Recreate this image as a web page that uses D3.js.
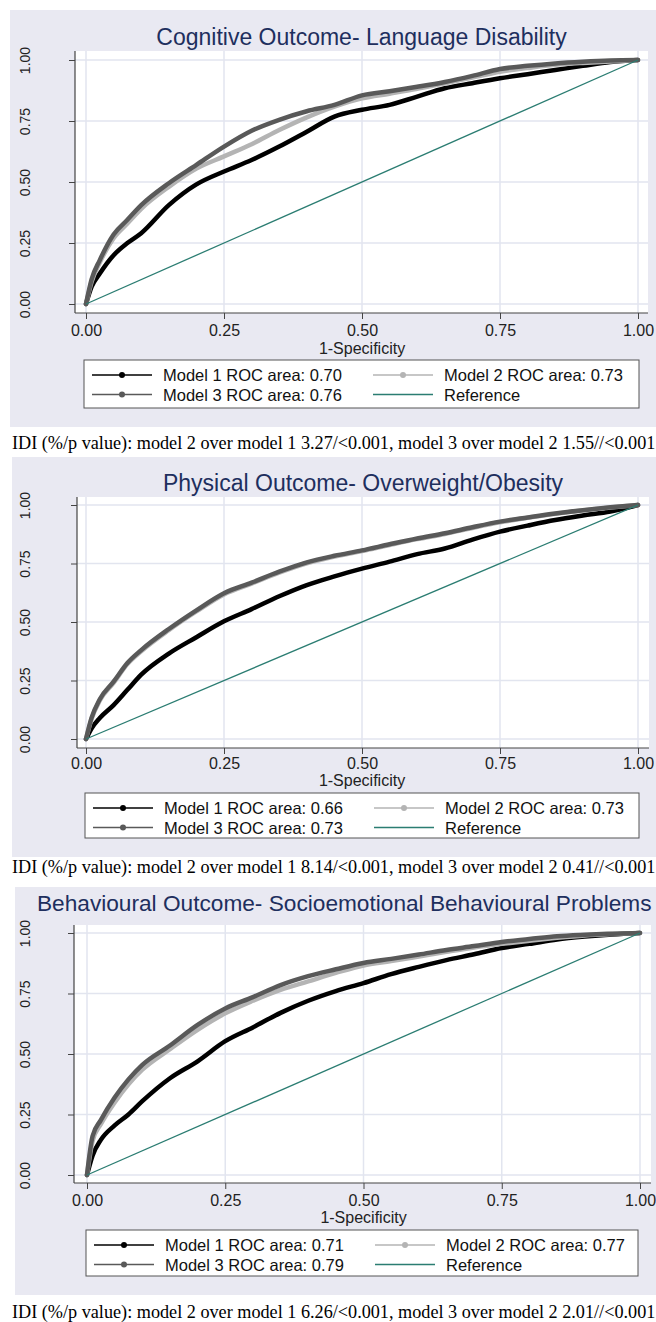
<!DOCTYPE html>
<html>
<head>
<meta charset="utf-8">
<script src="https://cdn.jsdelivr.net/npm/d3@7"></script>
<style>
  body { margin: 0; background: #fff; }
  svg { display: block; }
</style>
</head>
<body>
<div id="roc-panels"></div>
<script>
// 1-Specificity grid the curves were read at
const fpr = [0, 0.01, 0.025, 0.05, 0.075, 0.1, 0.15, 0.2, 0.25, 0.3, 0.35, 0.4, 0.45,
             0.5, 0.55, 0.6, 0.65, 0.7, 0.75, 0.8, 0.85, 0.9, 0.95, 1];

// Cognitive outcome - language disability (sensitivity)
const langModel1 = [0, 0.07, 0.125, 0.2, 0.25, 0.29, 0.405, 0.49, 0.543, 0.59, 0.645, 0.706, 0.768,
                    0.796, 0.816, 0.85, 0.884, 0.905, 0.925, 0.942, 0.959, 0.976, 0.992, 1];
const langModel2 = [0, 0.09, 0.17, 0.27, 0.33, 0.39, 0.48, 0.555, 0.605, 0.655, 0.713, 0.765, 0.809,
                    0.843, 0.862, 0.882, 0.905, 0.928, 0.952, 0.967, 0.98, 0.988, 0.994, 1];
const langModel3 = [0, 0.1, 0.18, 0.285, 0.345, 0.405, 0.495, 0.57, 0.645, 0.71, 0.755, 0.79, 0.816,
                    0.855, 0.872, 0.89, 0.91, 0.935, 0.963, 0.976, 0.986, 0.993, 0.998, 1];

// Physical outcome - overweight/obesity
const obeseModel1 = [0, 0.045, 0.09, 0.145, 0.21, 0.275, 0.365, 0.435, 0.503, 0.555, 0.61, 0.658, 0.695,
                     0.728, 0.758, 0.79, 0.814, 0.852, 0.886, 0.912, 0.936, 0.955, 0.972, 1];
const obeseModel2 = [0, 0.085, 0.165, 0.24, 0.32, 0.375, 0.465, 0.545, 0.618, 0.664, 0.711, 0.751, 0.78,
                     0.803, 0.829, 0.854, 0.876, 0.902, 0.926, 0.945, 0.962, 0.977, 0.989, 1];
const obeseModel3 = [0, 0.09, 0.17, 0.245, 0.325, 0.38, 0.47, 0.55, 0.623, 0.668, 0.715, 0.755, 0.783,
                     0.806, 0.832, 0.857, 0.879, 0.905, 0.929, 0.947, 0.964, 0.978, 0.99, 1];

// Behavioural outcome - socioemotional behavioural problems
const behavModel1 = [0, 0.08, 0.145, 0.205, 0.25, 0.305, 0.4, 0.47, 0.553, 0.61, 0.67, 0.72, 0.76,
                     0.793, 0.83, 0.86, 0.888, 0.912, 0.938, 0.955, 0.973, 0.985, 0.994, 1];
const behavModel2 = [0, 0.14, 0.21, 0.3, 0.375, 0.435, 0.52, 0.6, 0.668, 0.72, 0.765, 0.8, 0.835,
                     0.866, 0.884, 0.903, 0.922, 0.94, 0.955, 0.968, 0.98, 0.99, 0.996, 1];
const behavModel3 = [0, 0.16, 0.227, 0.32, 0.395, 0.455, 0.535, 0.62, 0.688, 0.735, 0.785, 0.822, 0.85,
                     0.876, 0.893, 0.911, 0.93, 0.946, 0.963, 0.975, 0.987, 0.993, 0.997, 1];

const panelTitles = [
  "Cognitive Outcome- Language Disability",
  "Physical Outcome- Overweight/Obesity",
  "Behavioural Outcome- Socioemotional Behavioural Problems"
];
const rocAreas = [[0.70, 0.73, 0.76], [0.66, 0.73, 0.73], [0.71, 0.77, 0.79]];
const idiNotes = [
  "IDI (%/p value): model 2 over model 1 3.27/<0.001, model 3 over model 2 1.55//<0.001",
  "IDI (%/p value): model 2 over model 1 8.14/<0.001, model 3 over model 2 0.41//<0.001",
  "IDI (%/p value): model 2 over model 1 6.26/<0.001, model 3 over model 2 2.01//<0.001"
];
const tickValues = [0, 0.25, 0.5, 0.75, 1];
const xTitle = "1-Specificity";

const curves = [
  [langModel1, langModel2, langModel3],
  [obeseModel1, obeseModel2, obeseModel3],
  [behavModel1, behavModel2, behavModel3]
];

const modelColors = ["#000000", "#b4b4b4", "#595959"];
const refColor = "#2b7d72";
const bgColor = "#e9e9f2";
const gridColor = "#e2e5ef";
const sans = "'Liberation Sans', Arial, sans-serif";

// panel boxes, in page pixels
const layouts = [
  { bg: [10, 10, 656, 427],  plot: [75, 51, 648, 313],  xr: [86, 638], yr: [304, 60],
    title: 37,  xlab: 330,  xtitle: 348,  leg: [84, 360, 639, 408],  note: 443 },
  { bg: [12, 457, 656, 857], plot: [77, 497, 649, 748], xr: [86, 638], yr: [739, 505],
    title: 483, xlab: 763,  xtitle: 780,  leg: [85, 793, 639, 838],  note: 867 },
  { bg: [15, 887, 656, 1295], plot: [74, 925, 651, 1183], xr: [87, 640], yr: [1175, 933],
    title: 903, xlab: 1200, xtitle: 1217, leg: [86, 1230, 638, 1276], note: 1312 }
];

const svg = d3.select("#roc-panels")
    .append("svg")
    .attr("width", 656)
    .attr("height", 1322);

layouts.forEach((L, p) => {
    const g = svg.append("g");
    const [bx0, by0, bx1, by1] = L.bg;
    const [px0, py0, px1, py1] = L.plot;

    g.append("rect")
        .attr("x", bx0).attr("y", by0)
        .attr("width", bx1 - bx0).attr("height", by1 - by0)
        .attr("fill", bgColor);

    g.append("rect")
        .attr("x", px0).attr("y", py0)
        .attr("width", px1 - px0).attr("height", py1 - py0)
        .attr("fill", "#fff");

    const x = d3.scaleLinear().domain([0, 1]).range(L.xr);
    const y = d3.scaleLinear().domain([0, 1]).range(L.yr);

    // grid
    g.append("g").selectAll("line")
        .data(tickValues)
        .join("line")
        .attr("x1", px0).attr("x2", px1)
        .attr("y1", d => y(d)).attr("y2", d => y(d))
        .attr("stroke", gridColor).attr("stroke-width", 1.5);
    g.append("g").selectAll("line")
        .data(tickValues)
        .join("line")
        .attr("x1", d => x(d)).attr("x2", d => x(d))
        .attr("y1", py0).attr("y2", py1)
        .attr("stroke", gridColor).attr("stroke-width", 1.5);

    // title (a long one starts near the left edge and is shrunk to fit)
    const cx = (px0 + px1) / 2;
    const title = g.append("text")
        .attr("x", cx)
        .attr("y", L.title)
        .attr("text-anchor", "middle")
        .attr("dominant-baseline", "central")
        .attr("fill", "#1e2f5e")
        .style("font-family", sans)
        .style("font-size", "23px")
        .text(panelTitles[p]);
    const tw = title.node().getComputedTextLength();
    if (cx + tw / 2 > 652) {
        const room = 652 - 37;
        title.attr("x", 37).attr("text-anchor", "start");
        if (tw > room) title.style("font-size", `${(23 * room / tw).toFixed(2)}px`);
    }

    // axes
    const yAxis = g.append("g")
        .attr("transform", `translate(${px0},0)`)
        .call(d3.axisLeft(y).tickValues(tickValues).tickSize(6).tickFormat(d3.format(".2f")));
    yAxis.select(".domain").remove();
    yAxis.selectAll(".tick line").attr("stroke", "#444");
    yAxis.selectAll(".tick text")
        .attr("x", 25 - px0).attr("y", 0).attr("dy", null)
        .attr("transform", `rotate(-90, ${25 - px0}, 0)`)
        .attr("text-anchor", "middle")
        .attr("dominant-baseline", "central")
        .attr("fill", "#222")
        .style("font-family", sans)
        .style("font-size", "14px");

    const xAxis = g.append("g")
        .attr("transform", `translate(0,${py1})`)
        .call(d3.axisBottom(x).tickValues(tickValues).tickSize(6).tickFormat(d3.format(".2f")));
    xAxis.select(".domain").remove();
    xAxis.selectAll(".tick line").attr("stroke", "#444");
    xAxis.selectAll(".tick text")
        .attr("y", L.xlab - py1).attr("dy", null)
        .attr("dominant-baseline", "central")
        .attr("fill", "#222")
        .style("font-family", sans)
        .style("font-size", "16px");

    g.append("line")
        .attr("x1", px0).attr("x2", px0).attr("y1", py0).attr("y2", py1)
        .attr("stroke", "#444").attr("stroke-width", 1.2);
    g.append("line")
        .attr("x1", px0).attr("x2", px1).attr("y1", py1).attr("y2", py1)
        .attr("stroke", "#444").attr("stroke-width", 1.2);

    g.append("text")
        .attr("x", x(0.5))
        .attr("y", L.xtitle)
        .attr("text-anchor", "middle")
        .attr("dominant-baseline", "central")
        .attr("fill", "#222")
        .style("font-family", sans)
        .style("font-size", "16px")
        .text(xTitle);

    // ROC curves
    const line = d3.line()
        .x((d, i) => x(fpr[i]))
        .y(d => y(d))
        .curve(d3.curveMonotoneX);

    g.append("g").selectAll("path")
        .data(curves[p])
        .join("path")
        .attr("d", line)
        .attr("fill", "none")
        .attr("stroke", (d, i) => modelColors[i])
        .attr("stroke-width", 4.5)
        .attr("stroke-linejoin", "round")
        .attr("stroke-linecap", "round");

    g.append("line")
        .attr("x1", x(0)).attr("y1", y(0))
        .attr("x2", x(1)).attr("y2", y(1))
        .attr("stroke", refColor)
        .attr("stroke-width", 1.3);

    // legend
    const [lx0, ly0, lx1, ly1] = L.leg;
    g.append("rect")
        .attr("x", lx0).attr("y", ly0)
        .attr("width", lx1 - lx0).attr("height", ly1 - ly0)
        .attr("fill", "#fff")
        .attr("stroke", "#555").attr("stroke-width", 1);

    const items = [
        { label: `Model 1 ROC area: ${rocAreas[p][0].toFixed(2)}`, color: modelColors[0], dot: true },
        { label: `Model 2 ROC area: ${rocAreas[p][1].toFixed(2)}`, color: modelColors[1], dot: true },
        { label: `Model 3 ROC area: ${rocAreas[p][2].toFixed(2)}`, color: modelColors[2], dot: true },
        { label: "Reference", color: refColor, dot: false }
    ];

    const leg = g.append("g").selectAll("g")
        .data(items)
        .join("g")
        .attr("transform", (d, i) =>
            `translate(${lx0 + (i % 2) * 281},${ly0 + 15 + Math.floor(i / 2) * 19.5})`);

    leg.append("line")
        .attr("x1", 8).attr("x2", 68)
        .attr("stroke", d => d.color)
        .attr("stroke-width", d => d.dot ? 1.6 : 1.4);
    leg.filter(d => d.dot).append("circle")
        .attr("cx", 38).attr("r", 3)
        .attr("fill", d => d.color);
    leg.append("text")
        .attr("x", 79)
        .attr("dominant-baseline", "central")
        .attr("fill", "#111")
        .style("font-family", sans)
        .style("font-size", "16.5px")
        .text(d => d.label);

    // note under the panel
    svg.append("text")
        .attr("x", 12)
        .attr("y", L.note)
        .attr("dominant-baseline", "central")
        .attr("fill", "#000")
        .style("font-family", "'Liberation Serif', 'Times New Roman', serif")
        .style("font-size", "18.2px")
        .text(idiNotes[p]);
});
</script>
</body>
</html>
